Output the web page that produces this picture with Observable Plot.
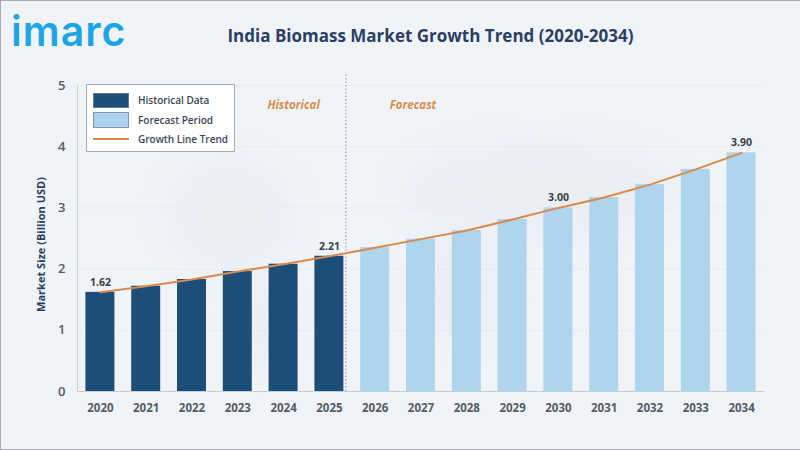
<!DOCTYPE html>
<html>
<head>
<meta charset="utf-8">
<script src="https://cdn.jsdelivr.net/npm/d3@7"></script>
<script src="https://cdn.jsdelivr.net/npm/@observablehq/plot@0.6"></script>
<style>
  html, body { margin: 0; padding: 0; }
  body { width: 800px; height: 450px; overflow: hidden; position: relative; background: #f0f4f9; font-family: "Open Sans", sans-serif; }
  #frame { position: absolute; inset: 0; box-sizing: border-box; border: 1px solid #a9adb3; border-right: 0; pointer-events: none; }
  #chart { position: absolute; left: 0; top: 0; }
  #title { position: absolute; left: 130.5px; width: 600px; top: 23px; text-align: center; font-size: 17px; font-weight: 700; color: #2c3f63; line-height: 26px; white-space: nowrap; }
  #logo { position: absolute; left: 11px; top: 3px; font-family: "Inter", sans-serif; font-size: 41px; font-weight: 600; line-height: 56px; letter-spacing: 1px; color: #1ea5e6; }
  #legend { position: absolute; left: 86px; top: 84px; width: 149px; height: 68px; box-sizing: border-box; background: #fff; border: 1px solid #a8adb4; font-size: 10px; font-weight: 600; color: #3a4658; }
  .row { position: absolute; left: 51px; white-space: nowrap; line-height: 14px; }
  .sw { position: absolute; left: 6px; width: 36px; box-sizing: border-box; }
  .land { position: absolute; background: #e4e8ee; filter: blur(12px); border-radius: 50%; opacity: .4; }
</style>
</head>
<body>
<div class="land" style="left:165px;top:155px;width:130px;height:120px"></div>
<div class="land" style="left:240px;top:280px;width:45px;height:90px"></div>
<div class="land" style="left:400px;top:140px;width:280px;height:100px"></div>
<div class="land" style="left:415px;top:235px;width:90px;height:105px"></div>
<div id="chart"></div>
<div id="logo">imarc</div>
<div id="title">India Biomass Market Growth Trend (2020-2034)</div>
<div id="legend">
  <div class="sw" style="top:8px;height:15px;background:#1c4e78;border:1px solid #5d7c96"></div>
  <div class="row" style="top:8px">Historical Data</div>
  <div class="sw" style="top:27px;height:16px;background:#aed4ee;border:1px solid #7f97a8"></div>
  <div class="row" style="top:28px">Forecast Period</div>
  <div class="sw" style="top:53px;height:2px;background:#d98a4a"></div>
  <div class="row" style="top:47px">Growth Line Trend</div>
</div>
<div id="frame"></div>
<script>
const years = [2020,2021,2022,2023,2024,2025,2026,2027,2028,2029,2030,2031,2032,2033,2034];
const values = [1.62,1.72,1.83,1.96,2.08,2.21,2.35,2.49,2.63,2.81,3.00,3.17,3.38,3.63,3.90];
const periods = ["Historical Data","Historical Data","Historical Data","Historical Data","Historical Data","Historical Data","Forecast Period","Forecast Period","Forecast Period","Forecast Period","Forecast Period","Forecast Period","Forecast Period","Forecast Period","Forecast Period"];
const labelledYears = [2020,2025,2030,2034];
const yTicks = [0,1,2,3,4,5];
const data = years.map((year,i)=>({year,value:values[i],period:periods[i]}));
const labelled = data.filter(d=>labelledYears.includes(d.year));
const font = '"Open Sans", sans-serif';

const plot = Plot.plot({
  width: 800, height: 450,
  marginLeft: 77, marginRight: 36, marginTop: 85, marginBottom: 59,
  style: {background:"transparent", fontFamily: font, overflow:"visible"},
  x: {type:"band", domain: years, paddingInner: 0.367, paddingOuter: 0.1835, align: 0.5, round: false},
  y: {domain:[0,5]},
  color: {domain:["Historical Data","Forecast Period"], range:["#1c4e78","#aed4ee"]},
  marks: [
    Plot.gridY([1,2,3,4,5], {stroke:"#dfe3e8", strokeOpacity:1, strokeDasharray:"2,2"}),
    Plot.ruleY([0], {stroke:"#c9ccd1"}),
    Plot.ruleX([years[0]], {dx:-23, y1:0, y2:5, stroke:"#c9ccd1"}),
    Plot.barY(data, {x:"year", y:"value", fill:"period"}),
    Plot.ruleX([2025], {dx:16.5, y1:0, y2:5.18, stroke:"#8a929c", strokeDasharray:"1.5,2", strokeWidth:1}),
    Plot.line(data, {x:"year", y:"value", stroke:"#d98a4a", strokeWidth:2}),
    Plot.text(labelled, {x:"year", y:"value", text:d=>d.value.toFixed(2), dy:-10, fontSize:10.5, fontWeight:700, fill:"#3a3f47"}),
    Plot.text(["Historical"], {x:()=>2024, y:()=>4.67, dx:10, fontSize:11.5, fontWeight:700, fontStyle:"italic", fill:"#d98e50"}),
    Plot.text(["Forecast"], {x:()=>2027, y:()=>4.67, dx:-8, fontSize:11.5, fontWeight:700, fontStyle:"italic", fill:"#d98e50"}),
    Plot.axisY(yTicks, {tickSize:0, tickPadding:12, fontSize:13, fontWeight:600, fill:"#555b63", label:null, tickFormat:"d"}),
    Plot.axisX({tickSize:0, tickPadding:12, fontSize:11.5, fontWeight:700, fill:"#555b63", label:null, tickFormat:d=>String(d)}),
    Plot.text(["Market Size (Billion USD)"], {frameAnchor:"left", textAnchor:"middle", dx:-36, dy:6, rotate:-90, fontSize:11, fontWeight:700, fill:"#2c3f63"})
  ]
});
document.getElementById("chart").appendChild(plot);
</script>
</body>
</html>
